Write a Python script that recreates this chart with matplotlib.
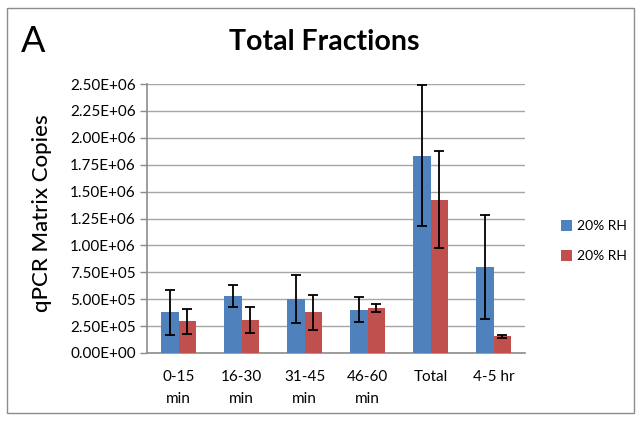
import matplotlib
matplotlib.use("Agg")
import numpy as np
from matplotlib import pyplot as plt
from matplotlib.patches import Rectangle

# 数据
categories = ["0-15\nmin", "16-30\nmin", "31-45\nmin", "46-60\nmin", "Total", "4-5 hr"]
blue_vals = [378000, 530000, 502000, 402000, 1834000, 802000]
blue_err = [210000, 102000, 225000, 118000, 654000, 485000]
red_vals = [295000, 307000, 378000, 415000, 1425000, 155000]
red_err = [117000, 124000, 163000, 36000, 450000, 15000]
series_names = ["20% RH", "20% RH"]
y_ticks = [0, 250000, 500000, 750000, 1000000, 1250000, 1500000, 1750000,
           2000000, 2250000, 2500000]

plt.rcParams['font.family'] = ['Lato', 'DejaVu Sans']

fig = plt.figure(figsize=(6.36, 4.22), dpi=100)
ax = fig.add_axes([147 / 636, 1 - 353 / 422, 378 / 636, 269 / 422])

x = np.arange(len(categories))
w = 0.2857
blue = '#4F81BD'
red = '#C0504D'

ax.bar(x - w / 2, blue_vals, width=w, color=blue, label=series_names[0], zorder=3)
ax.bar(x + w / 2, red_vals, width=w, color=red, label=series_names[1], zorder=3)
ax.errorbar(x - w / 2, blue_vals, yerr=blue_err, fmt='none', ecolor='black',
            elinewidth=1.3, capsize=3.5, capthick=1.3, zorder=4)
ax.errorbar(x + w / 2, red_vals, yerr=red_err, fmt='none', ecolor='black',
            elinewidth=1.3, capsize=3.5, capthick=1.3, zorder=4)

ax.set_xlim(-0.5, len(categories) - 0.5)
ax.set_ylim(0, 2500000)
ax.set_yticks(y_ticks)
ax.set_yticklabels([f"{v:.2E}" for v in y_ticks], fontsize=11)
ax.set_xticks(x)
ax.set_xticklabels(categories, fontsize=11, linespacing=1.8)
ax.tick_params(axis='x', length=0, pad=12)
ax.tick_params(axis='y', length=5, width=1, color='#8c8c8c', pad=3)

ax.grid(axis='y', color='#a6a6a6', linewidth=1, zorder=0)
for s in ['top', 'right']:
    ax.spines[s].set_visible(False)
for s in ['left', 'bottom']:
    ax.spines[s].set_color('#8c8c8c')
    ax.spines[s].set_linewidth(1.2)

ax.set_ylabel('qPCR Matrix Copies', fontsize=16, fontweight='medium')
ax.yaxis.set_label_coords(-0.25, 0.52)

fig.text(0.51, 1 - 42 / 422, 'Total Fractions', ha='center', va='center',
         fontsize=20.5, fontweight='bold')
fig.text(21 / 636, 1 - 42 / 422, 'A', ha='left', va='center', fontsize=26)

ax.legend(loc='center left', bbox_to_anchor=(548 / 636, 1 - 241 / 422),
          bbox_transform=fig.transFigure, frameon=False, fontsize=10,
          handlelength=0.85, handleheight=0.85, handletextpad=0.35,
          labelspacing=1.3)

# 外框
fig.patches.append(Rectangle((7 / 636, 1 - 413 / 422), 627 / 636, 405 / 422,
                             transform=fig.transFigure, fill=False,
                             edgecolor='#8c8c8c', linewidth=1))

fig.savefig('out.png', dpi=100)
